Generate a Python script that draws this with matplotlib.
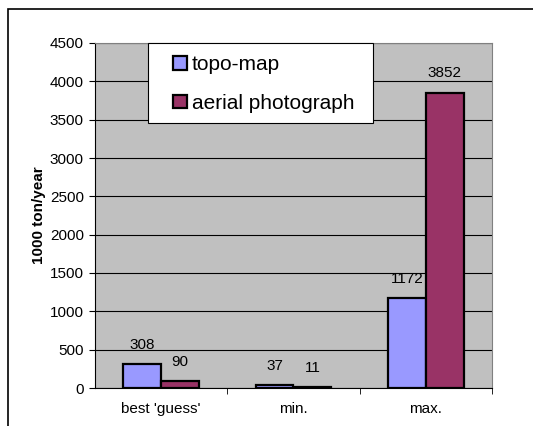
import numpy as np
import matplotlib.pyplot as plt
from matplotlib.patches import Rectangle

categories = ["best 'guess'", "min.", "max."]
topo_map = [308, 37, 1172]
aerial_photo = [90, 11, 3852]
series_names = ["topo-map", "aerial photograph"]

plt.rcParams['font.family'] = ['Liberation Sans', 'DejaVu Sans']

fig = plt.figure(figsize=(5.33, 4.26), dpi=100)
fig.patch.set_facecolor("white")
# outer chart frame (runs off the right and bottom edges)
fig.patches.append(Rectangle((8 / 533, -0.1), 1.2, (426 - 9) / 426 + 0.1,
                             transform=fig.transFigure, fill=False,
                             edgecolor="black", lw=1.2, zorder=0))

ax = fig.add_axes([95 / 533, 38 / 426, 397 / 533, 345 / 426])
ax.set_facecolor("#C0C0C0")

x = np.arange(len(categories))
w = 0.286
b1 = ax.bar(x - w / 2, topo_map, w, color="#9999FF", edgecolor="black", lw=1.6,
            label=series_names[0], zorder=3)
b2 = ax.bar(x + w / 2, aerial_photo, w, color="#993366", edgecolor="black", lw=1.6,
            label=series_names[1], zorder=3)

for bars, vals in [(b1, topo_map), (b2, aerial_photo)]:
    for r, v in zip(bars, vals):
        ax.annotate(str(v), (r.get_x() + r.get_width() / 2, v), xytext=(0, 9),
                    textcoords="offset points", ha="center", va="bottom", fontsize=11)

ax.set_xlim(-0.5, 2.5)
ax.set_ylim(0, 4500)
ax.set_yticks(range(0, 4501, 500))
ax.yaxis.grid(True, color="black", lw=0.8, zorder=1)
ax.set_axisbelow(True)

ax.set_xticks(x)
ax.set_xticklabels(categories, fontsize=11)
ax.set_xticks([0.5, 1.5, 2.5], minor=True)
ax.tick_params(axis="x", which="major", length=0, pad=10)
ax.tick_params(axis="x", which="minor", length=4, direction="out")
ax.tick_params(axis="y", length=4, direction="out", labelsize=11, pad=4)

for s in ["top", "right"]:
    ax.spines[s].set_color("#808080")
ax.spines["left"].set_color("black")
ax.spines["bottom"].set_color("black")

ax.set_ylabel("1000 ton/year", fontsize=11, fontweight="bold", labelpad=3)

# legend box
ax.add_patch(Rectangle((53 / 397, 1 - 80 / 345), 225 / 397, 80 / 345,
                       transform=ax.transAxes, facecolor="white", edgecolor="black",
                       lw=0.8, zorder=5, clip_on=False))
leg = ax.legend(loc="upper left", bbox_to_anchor=(78 / 397, 1 - 12 / 345),
                fontsize=15, handlelength=0.65, handleheight=0.65, handletextpad=0.25,
                labelspacing=0.95, borderpad=0, borderaxespad=0, frameon=False)
leg.set_zorder(6)
for h in leg.legend_handles:
    h.set_linewidth(1.6)

fig.savefig("out.png", dpi=100)
